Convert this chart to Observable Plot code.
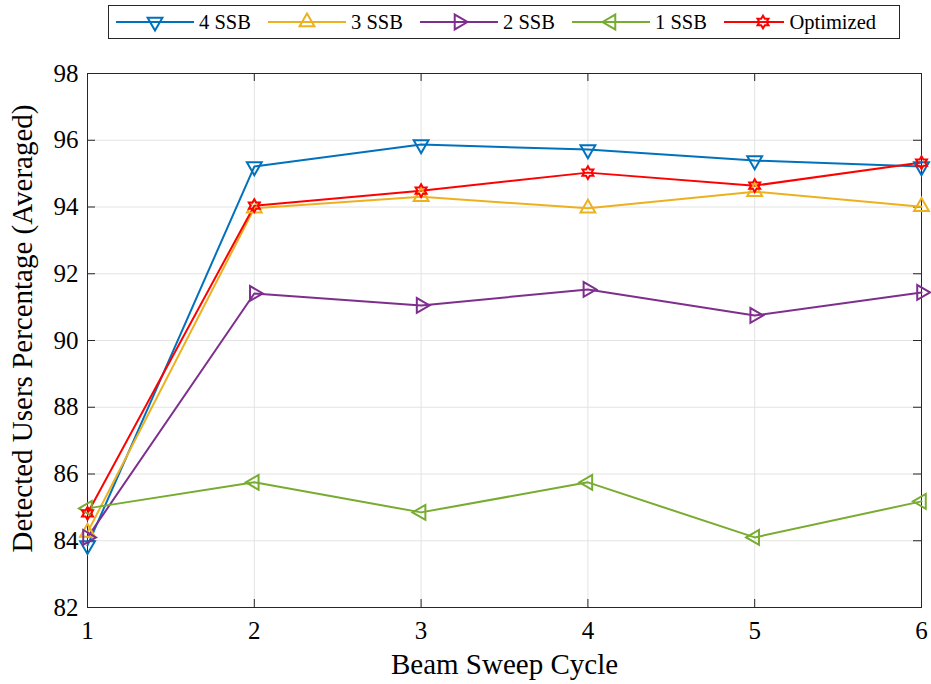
<!DOCTYPE html>
<html><head><meta charset="utf-8">
<script src="https://cdn.jsdelivr.net/npm/d3@7"></script>
<script src="https://cdn.jsdelivr.net/npm/@observablehq/plot@0.6"></script>
<style>
body{margin:0;background:#fff;}
#wrap{position:relative;width:931px;height:684px;font-family:"Liberation Serif",serif;}
#legend{position:absolute;left:108px;top:5px;width:792px;height:34px;border:1px solid #262626;background:#fff;display:flex;align-items:center;box-sizing:border-box;padding-left:7px;z-index:2;}
.item{display:flex;align-items:center;width:152px;font-size:20.5px;color:#000;white-space:nowrap;}
.item svg{margin-right:5px;}
#chart{position:absolute;left:0;top:0;}
</style></head><body>
<div id="wrap"><div id="legend"></div><div id="chart"></div></div>
<script>
// ---- data ----
const cycles = [1, 2, 3, 4, 5, 6];
const ssb4 = [83.86, 95.21, 95.87, 95.72, 95.39, 95.21];
const ssb3 = [84.25, 93.96, 94.31, 93.96, 94.46, 94.01];
const ssb2 = [84.10, 91.41, 91.05, 91.53, 90.75, 91.44];
const ssb1 = [84.97, 85.75, 84.85, 85.75, 84.10, 85.18];
const optimized = [84.82, 94.04, 94.49, 95.03, 94.64, 95.33];
const seriesNames = ["4 SSB", "3 SSB", "2 SSB", "1 SSB", "Optimized"];
const xTicks = [1, 2, 3, 4, 5, 6];
const yTicks = [82, 84, 86, 88, 90, 92, 94, 96, 98];
const xLabel = "Beam Sweep Cycle";
const yLabel = "Detected Users Percentage (Averaged)";

// ---- styles ----
const hexagram = {
  draw(ctx, size) {
    const r = Math.sqrt(size / Math.PI) * 1.15;
    const ri = r / Math.sqrt(3);
    for (let i = 0; i < 12; i++) {
      const a = -Math.PI / 2 + i * Math.PI / 6;
      const rr = i % 2 === 0 ? r : ri;
      const x = rr * Math.cos(a), y = rr * Math.sin(a);
      if (i) ctx.lineTo(x, y); else ctx.moveTo(x, y);
    }
    ctx.closePath();
  }
};
const styles = [
  {color: "#0072BD", symbol: d3.symbolTriangle, rotate: 180},
  {color: "#EDB120", symbol: d3.symbolTriangle, rotate: 0},
  {color: "#7E2F8E", symbol: d3.symbolTriangle, rotate: 90},
  {color: "#77AC30", symbol: d3.symbolTriangle, rotate: -90},
  {color: "#FF0000", symbol: hexagram, rotate: 0}
];
const values = [ssb4, ssb3, ssb2, ssb1, optimized];
const series = seriesNames.map((name, i) => ({
  name, ...styles[i],
  rows: cycles.map((c, j) => ({cycle: c, value: values[i][j], series: name}))
}));

const R = 5.5;
const W = 931, H = 684, mL = 87, mR = 10, mT = 73, mB = 77;
const fw = W - mL - mR, fh = H - mT - mB;
const tickLen = 8;
const font = "'Liberation Serif', serif";

const marks = [
  Plot.gridX(xTicks, {stroke: "#e3e3e3", strokeOpacity: 1}),
  Plot.gridY(yTicks, {stroke: "#e3e3e3", strokeOpacity: 1}),
  Plot.tickX(xTicks, {x: d => d, insetTop: fh - tickLen, stroke: "#262626"}),
  Plot.tickX(xTicks, {x: d => d, insetBottom: fh - tickLen, stroke: "#262626"}),
  Plot.tickY(yTicks, {y: d => d, insetRight: fw - tickLen, stroke: "#262626"}),
  Plot.tickY(yTicks, {y: d => d, insetLeft: fw - tickLen, stroke: "#262626"}),
  Plot.frame({stroke: "#262626", strokeWidth: 1}),
  Plot.axisX(xTicks, {tickSize: 0, tickPadding: 14, fontSize: 25, fontFamily: font, label: null, tickFormat: d => d}),
  Plot.axisY(yTicks, {tickSize: 0, tickPadding: 9, fontSize: 25, fontFamily: font, label: null, tickFormat: d => d}),
  Plot.text([xLabel], {text: d => d, frameAnchor: "bottom", dy: 57, fontSize: 29, fontFamily: font, lineAnchor: "middle", textAnchor: "middle"}),
  Plot.text([yLabel], {text: d => d, frameAnchor: "left", dx: -65, dy: -12, rotate: -90, fontSize: 29, fontFamily: font, lineAnchor: "middle", textAnchor: "middle"})
];
for (const s of series) {
  marks.push(Plot.line(s.rows, {x: "cycle", y: "value", stroke: s.color, strokeWidth: 2}));
}
for (const s of series) {
  marks.push(Plot.dot(s.rows, {x: "cycle", y: "value", stroke: s.color, fill: "none", strokeWidth: 2, r: R, symbol: s.symbol, rotate: s.rotate}));
}

const chart = Plot.plot({
  width: W, height: H, marginLeft: mL, marginRight: mR, marginTop: mT, marginBottom: mB,
  style: {fontFamily: font, background: "transparent", color: "#000"},
  x: {domain: [1, 6]},
  y: {domain: [82, 98]},
  marks
});
document.getElementById("chart").appendChild(chart);

// ---- legend ----
const legend = d3.select("#legend");
for (const s of series) {
  const item = legend.append("div").attr("class", "item");
  const svg = item.append("svg").attr("width", 78).attr("height", 24);
  svg.append("line").attr("x1", 0).attr("x2", 78).attr("y1", 12).attr("y2", 12)
    .attr("stroke", s.color).attr("stroke-width", 2);
  svg.append("path").attr("d", d3.symbol(s.symbol, Math.PI * R * R)())
    .attr("transform", `translate(39,12) rotate(${s.rotate})`)
    .attr("fill", "none").attr("stroke", s.color).attr("stroke-width", 2);
  item.append("span").text(s.name);
}
</script>
</body></html>
